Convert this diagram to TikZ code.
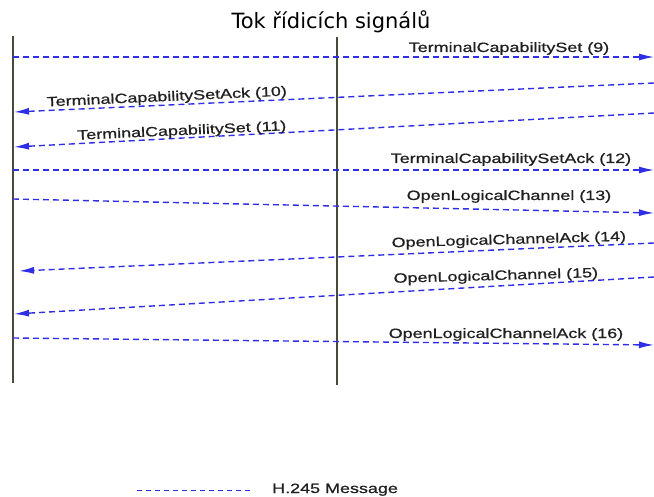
\documentclass[tikz,border=0pt]{standalone}
\usepackage{fontspec}
\setmainfont{DejaVu Sans}
\newfontfamily\msgfont[FakeStretch=1.33,FakeBold=0.8]{Liberation Sans}
\usetikzlibrary{arrows.meta}

\definecolor{msgblue}{HTML}{2E2EE6}
\definecolor{lifegray}{HTML}{4A4A3A}
\definecolor{labelgray}{HTML}{202020}

\tikzset{
  lifeline/.style={draw=lifegray, line width=2pt},
  msg/.style={draw=msgblue, line width=1.4pt, dash pattern=on 6pt off 4pt},
  msgarrow/.style={msg, -{Latex[length=15pt,width=7pt]}},
  msglabel/.style={font=\msgfont\fontsize{13.5}{15}\selectfont, text=labelgray,
                   anchor=base, inner sep=0pt},
  titletext/.style={font=\fontsize{21}{24}\selectfont, anchor=base, inner sep=0pt}
}

\begin{document}
\begin{tikzpicture}[x=1pt, y=-1pt]
  \useasboundingbox (0,0) rectangle (654,497);

  % title
  \node[titletext] (title) at (331,29) {Tok řídicích signálů};

  % lifelines
  \coordinate (lt) at (13,36);  \coordinate (lb) at (13,383);
  \coordinate (mt) at (337,37); \coordinate (mb) at (337,385);
  \draw[lifeline] (lt) -- (lb);
  \draw[lifeline] (mt) -- (mb);

  % message end points (left side / right side)
  \coordinate (l9)  at (13,57);   \coordinate (r9)  at (654,57);
  \coordinate (r10) at (654,83);  \coordinate (l10) at (14,112);
  \coordinate (r11) at (654,113); \coordinate (l11) at (14,147);
  \coordinate (l12) at (13,170);  \coordinate (r12) at (654,170);
  \coordinate (l13) at (13,199);  \coordinate (r13) at (654,213);
  \coordinate (r14) at (654,243); \coordinate (l14) at (19,271);
  \coordinate (r15) at (654,277); \coordinate (l15) at (14,314);
  \coordinate (l16) at (13,338);  \coordinate (r16) at (654,345);

  % messages
  \draw[msgarrow] (l9)  -- (r9);
  \draw[msgarrow] (r10) -- (l10);
  \draw[msgarrow] (r11) -- (l11);
  \draw[msgarrow] (l12) -- (r12);
  \draw[msgarrow] (l13) -- (r13);
  \draw[msgarrow] (r14) -- (l14);
  \draw[msgarrow] (r15) -- (l15);
  \draw[msgarrow] (l16) -- (r16);

  % message labels
  \node[msglabel] (t9)  at (509,52)                {TerminalCapabilitySet (9)};
  \node[msglabel, rotate=2.6] (t10) at (167,101)   {TerminalCapabilitySetAck (10)};
  \node[msglabel, rotate=2.6] (t11) at (182,135)   {TerminalCapabilitySet (11)};
  \node[msglabel] (t12) at (511,163)               {TerminalCapabilitySetAck (12)};
  \node[msglabel] (t13) at (509,200)               {OpenLogicalChannel (13)};
  \node[msglabel, rotate=1.6] (t14) at (509,244)   {OpenLogicalChannelAck (14)};
  \node[msglabel, rotate=1.6] (t15) at (496,280)   {OpenLogicalChannel (15)};
  \node[msglabel] (t16) at (506,338)               {OpenLogicalChannelAck (16)};

  % legend
  \coordinate (kl) at (137,490); \coordinate (kr) at (253,490);
  \draw[msg, line width=1pt, dash pattern=on 5pt off 4pt] (kl) -- (kr);
  \node[msglabel, anchor=base west] (key) at (272,493) {H.245 Message};
\end{tikzpicture}
\end{document}
